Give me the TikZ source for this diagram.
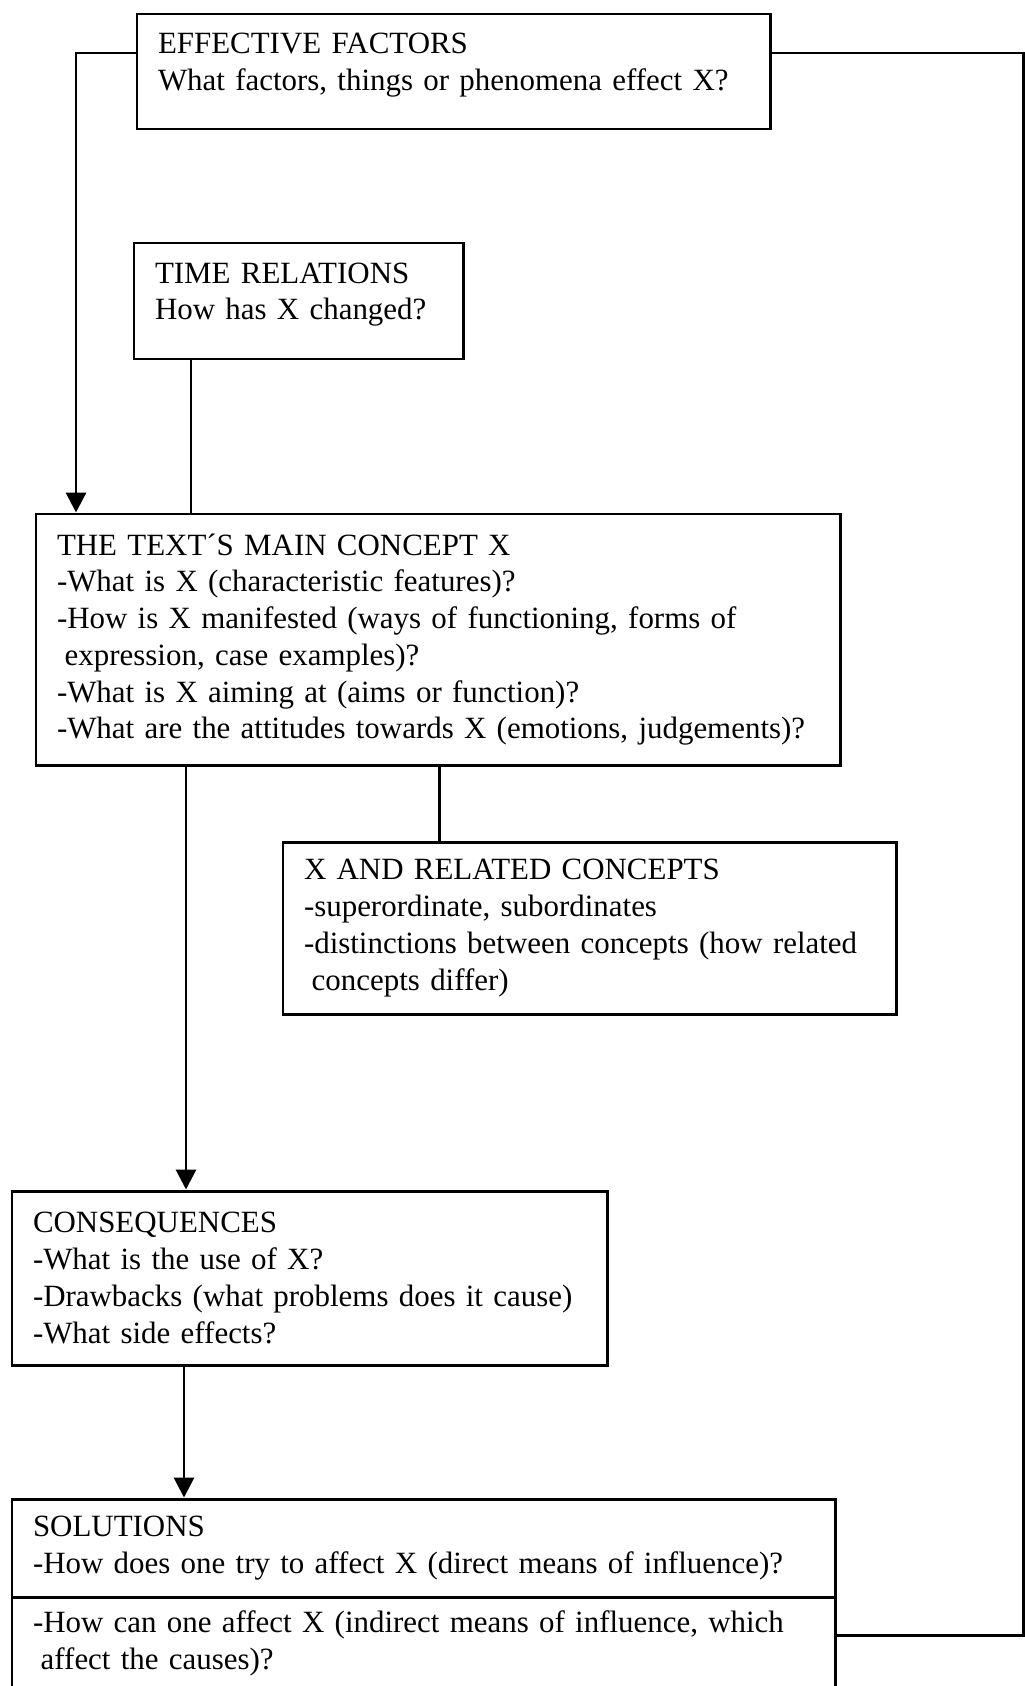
\documentclass[tikz,border=0pt]{standalone}
\usepackage{fontspec}
\setmainfont{Liberation Serif}
\usepackage{tikz}
\usetikzlibrary{positioning}
\usetikzlibrary{arrows.meta}
\pgfdeclarelayer{nodelayer}
\pgfdeclarelayer{edgelayer}
\pgfsetlayers{nodelayer,edgelayer,main}
\tikzset{
    none/.style = {inner sep=0pt},
    box/.style = {draw, line width=1.7pt, inner xsep=0.42cm, inner ysep=0pt,
        align=left, font=\fontsize{17.6}{20.9}\selectfont}
}

\begin{document}
\begin{tikzpicture}
    % Set filled arrow heads globally
    \tikzset{>={Triangle[length=0.4cm, width=0.4cm]}}
    \useasboundingbox (0,0) rectangle (20.48,-33.72);

    \begin{pgfonlayer}{nodelayer}
        \node [style=box, minimum width=12.66cm, minimum height=2.30cm, text width=11.82cm] (1) at (9.07, -1.43) {EFFECTIVE FACTORS\\What factors, things or phenomena effect X?\par\kern0.26cm};
        \node [style=box, minimum width=6.58cm, minimum height=2.32cm, text width=5.74cm] (2) at (5.97, -6.02) {TIME RELATIONS\\How has X changed?\par\kern0.26cm};
        \node [style=box, minimum width=16.08cm, minimum height=5.02cm, text width=15.24cm] (3) at (8.76, -12.79) {THE TEXT´S MAIN CONCEPT X\\-What is X (characteristic features)?\\-How is X manifested (ways of functioning, forms of\\\hspace*{.25em}expression, case examples)?\\-What is X aiming at (aims or function)?\\-What are the attitudes towards X (emotions, judgements)?};
        \node [style=box, minimum width=12.26cm, minimum height=3.44cm, text width=11.42cm] (4) at (11.79, -18.56) {X AND RELATED CONCEPTS\\-superordinate, subordinates\\-distinctions between concepts (how related\\\hspace*{.25em}concepts differ)};
        \node [style=box, minimum width=11.90cm, minimum height=3.48cm, text width=11.06cm] (5) at (6.19, -25.56) {CONSEQUENCES\\-What is the use of X?\\-Drawbacks (what problems does it cause)\\-What side effects?};
        \node [style=box, minimum width=16.46cm, minimum height=1.96cm, text width=15.62cm] (6) at (8.47, -30.96) {SOLUTIONS\\-How does one try to affect X (direct means of influence)?};
        \node [style=box, minimum width=16.46cm, minimum height=1.86cm, text width=15.62cm] (7) at (8.47, -32.87) {-How can one affect X (indirect means of influence, which\\\hspace*{.25em}affect the causes)?};
        \node [style=none] (8) at (1.52, -1.06) {};
        \node [style=none] (9) at (20.47, -1.06) {};
        \node [style=none] (10) at (20.47, -32.70) {};
        \node [style=none] (11) at (3.82, -8.5) {};
        \node [style=none] (12) at (8.78, -16) {};
        \node [style=none] (13) at (3.72, -20) {};
        \node [style=none] (14) at (3.68, -28) {};
    \end{pgfonlayer}
    \begin{pgfonlayer}{edgelayer}
        \draw [->, line width=1.7pt] (1.west |- 8.center) to (8.center) to (8.center |- 3.north);
        \draw [line width=1.7pt] (1.east |- 9.center) to (9.center) to (10.center) to (10.center -| 7.east);
        \draw [line width=1.7pt] (2.south -| 11.center) to (3.north -| 11.center);
        \draw [line width=1.7pt] (3.south -| 12.center) to (4.north -| 12.center);
        \draw [->, line width=1.7pt] (3.south -| 13.center) to (5.north -| 13.center);
        \draw [->, line width=1.7pt] (5.south -| 14.center) to (6.north -| 14.center);
    \end{pgfonlayer}
\end{tikzpicture}
\end{document}
